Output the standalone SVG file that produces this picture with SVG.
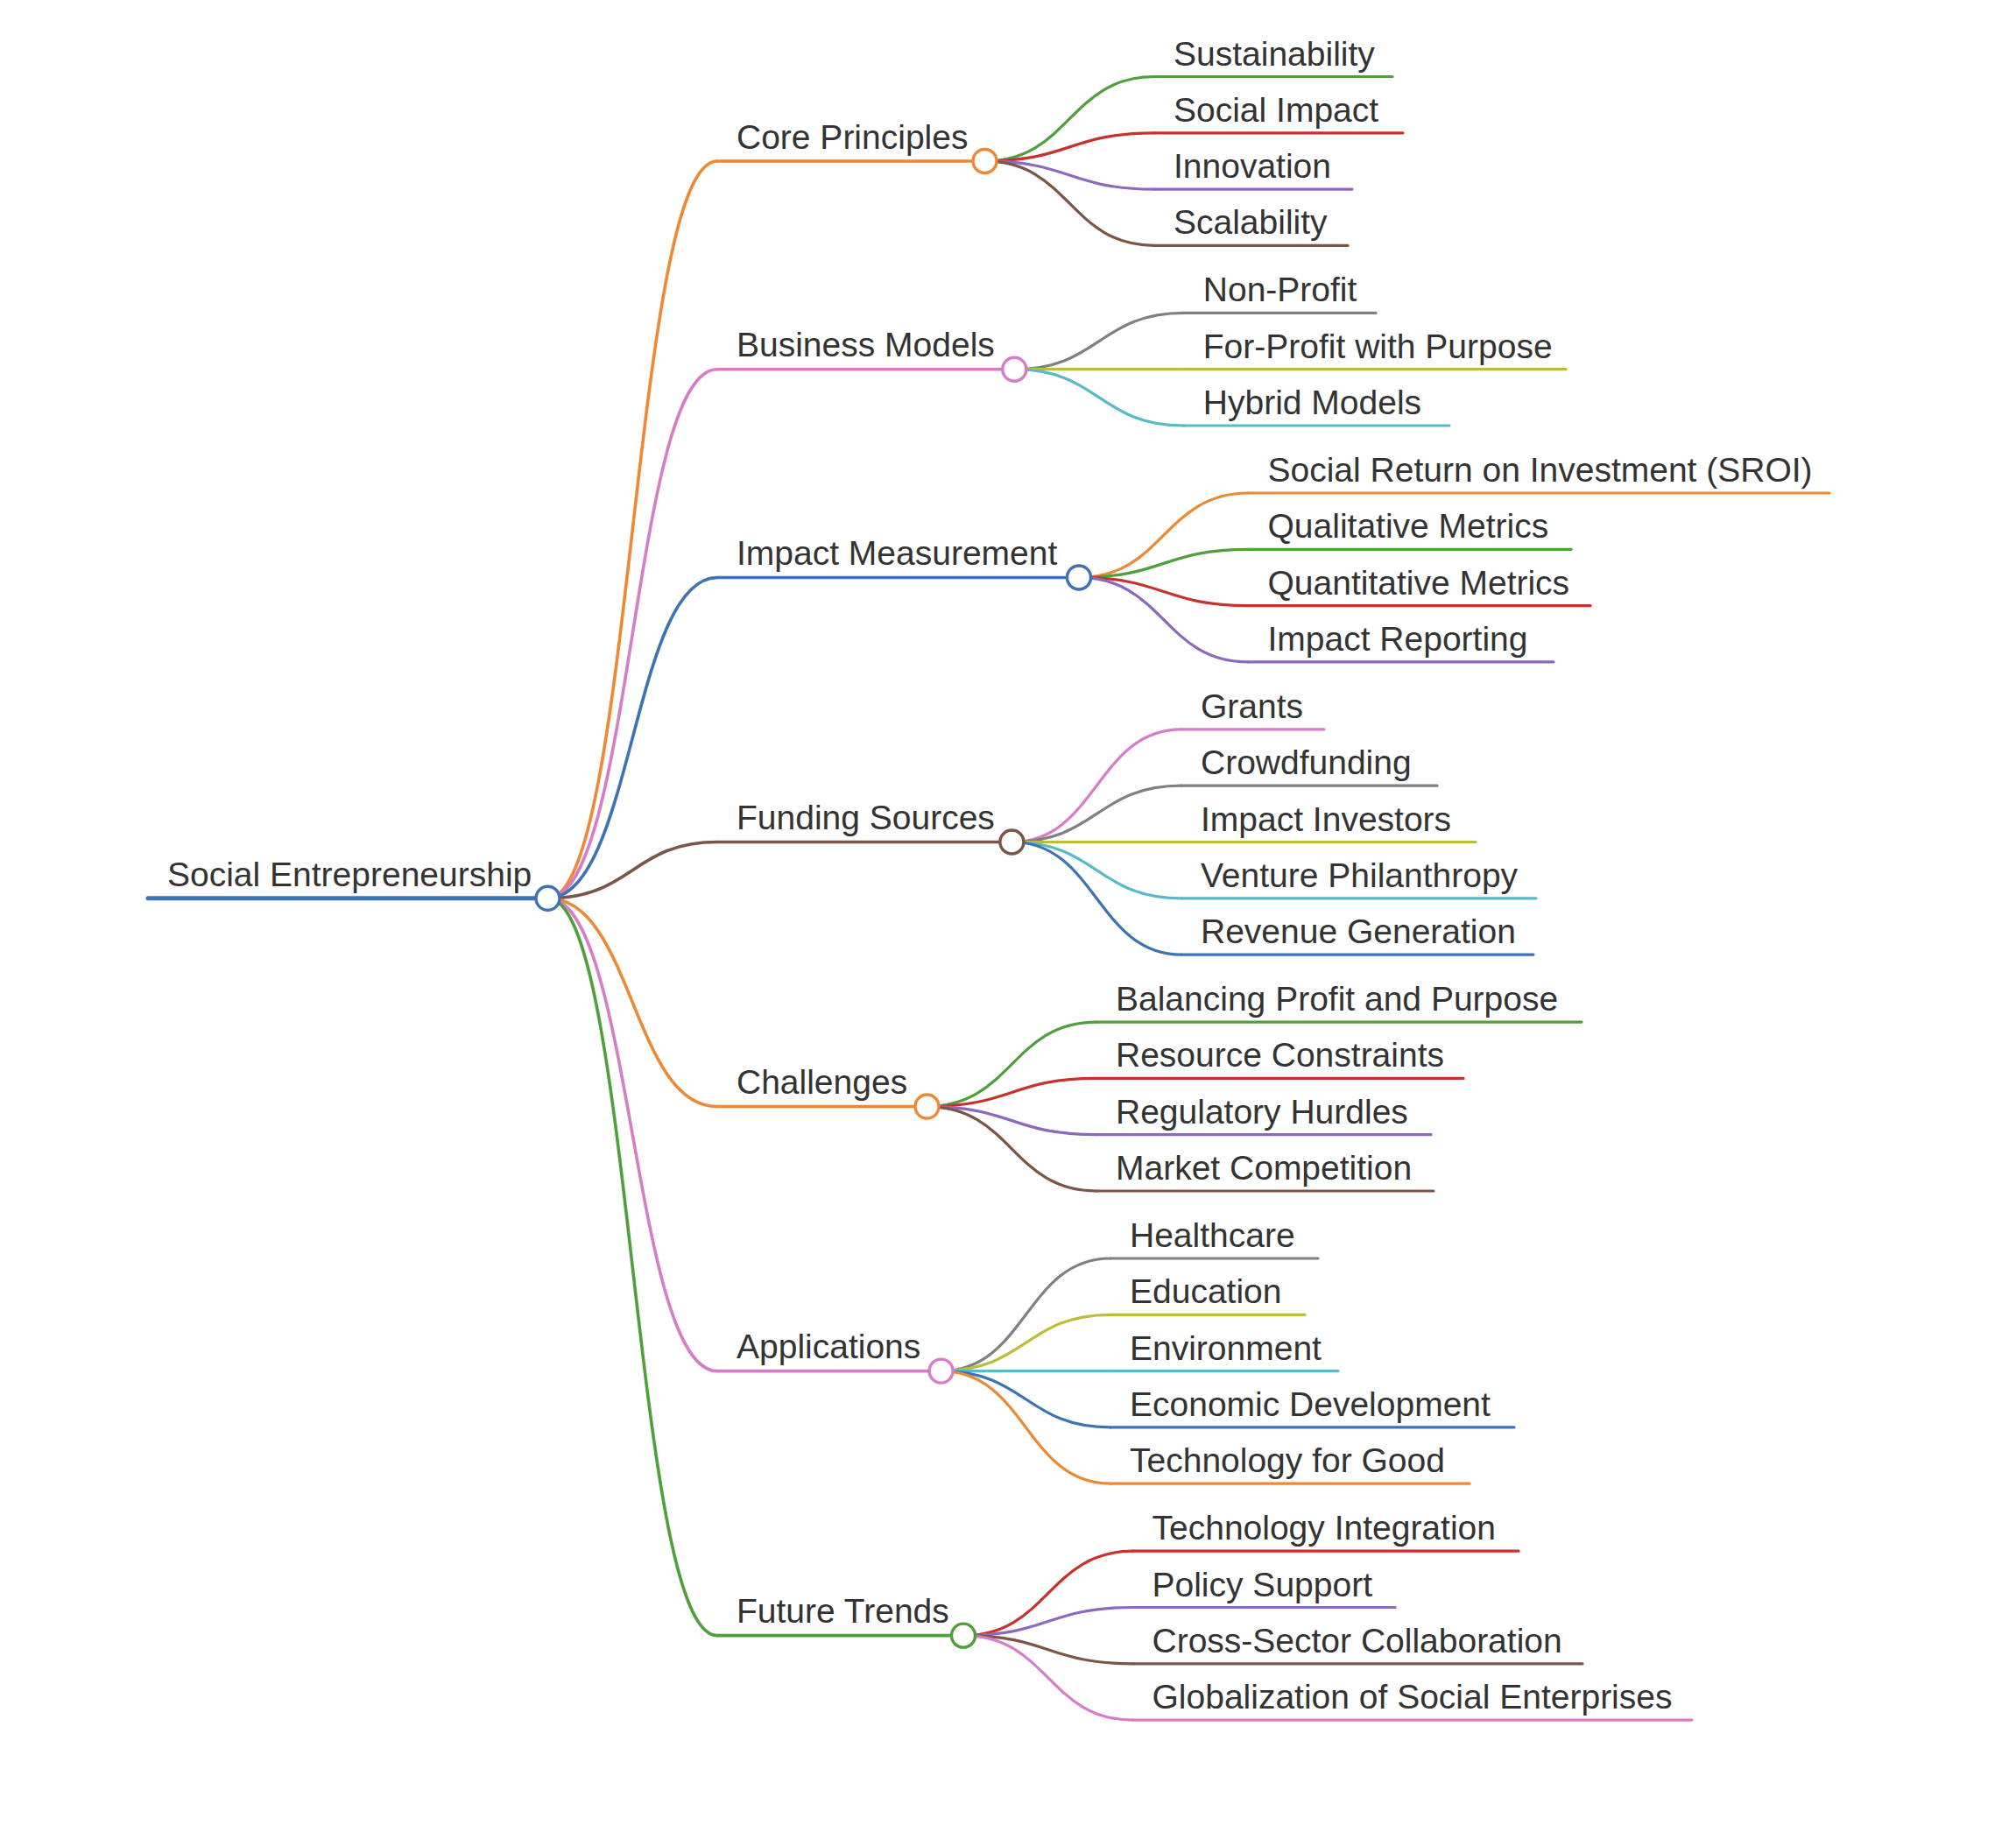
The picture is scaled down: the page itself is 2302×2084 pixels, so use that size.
<svg xmlns="http://www.w3.org/2000/svg" width="2302" height="2084" viewBox="0 0 2302 2084">
<style>
text{font-family:"Liberation Sans",Arial,Helvetica,sans-serif;font-size:39px;fill:#333333}
path,line{fill:none;stroke-linecap:round}
.l0{stroke-width:5}
.l1{stroke-width:3.6}
.l2{stroke-width:3.2}
circle{fill:#ffffff;stroke-width:3.4}
.blue{stroke:#3c73b4}.orange{stroke:#ee8834}.green{stroke:#4f9f3c}.red{stroke:#c8322d}.purple{stroke:#8c69be}
.brown{stroke:#7d5546}.pink{stroke:#d77dc8}.gray{stroke:#808080}.olive{stroke:#bdbd3c}.cyan{stroke:#58b9c9}
</style>
<rect width="2302" height="2084" fill="#ffffff"/>
<g id="connectors">
<path class="l1 orange" d="M625.5,1025.8 C722.25,1025.8 722.25,183.95 819,183.95"/>
<path class="l1 pink" d="M625.5,1025.8 C722.25,1025.8 722.25,421.7 819,421.7"/>
<path class="l1 blue" d="M625.5,1025.8 C722.25,1025.8 722.25,659.45 819,659.45"/>
<path class="l1 brown" d="M625.5,1025.8 C722.25,1025.8 722.25,961.5 819,961.5"/>
<path class="l1 orange" d="M625.5,1025.8 C722.25,1025.8 722.25,1263.55 819,1263.55"/>
<path class="l1 pink" d="M625.5,1025.8 C722.25,1025.8 722.25,1565.6 819,1565.6"/>
<path class="l1 green" d="M625.5,1025.8 C722.25,1025.8 722.25,1867.65 819,1867.65"/>

<path class="l2 green" d="M1124.5,183.95 C1221.25,183.95 1221.25,87.5 1318,87.5"/>
<path class="l2 red" d="M1124.5,183.95 C1221.25,183.95 1221.25,151.8 1318,151.8"/>
<path class="l2 purple" d="M1124.5,183.95 C1221.25,183.95 1221.25,216.1 1318,216.1"/>
<path class="l2 brown" d="M1124.5,183.95 C1221.25,183.95 1221.25,280.4 1318,280.4"/>

<path class="l2 gray" d="M1158.3,421.7 C1255.05,421.7 1255.05,357.4 1351.8,357.4"/>
<path class="l2 olive" d="M1158.3,421.7 C1255.05,421.7 1255.05,421.7 1351.8,421.7"/>
<path class="l2 cyan" d="M1158.3,421.7 C1255.05,421.7 1255.05,486 1351.8,486"/>

<path class="l2 orange" d="M1232,659.45 C1328.75,659.45 1328.75,563 1425.5,563"/>
<path class="l2 green" d="M1232,659.45 C1328.75,659.45 1328.75,627.3 1425.5,627.3"/>
<path class="l2 red" d="M1232,659.45 C1328.75,659.45 1328.75,691.6 1425.5,691.6"/>
<path class="l2 purple" d="M1232,659.45 C1328.75,659.45 1328.75,755.9 1425.5,755.9"/>

<path class="l2 pink" d="M1155.4,961.5 C1252.15,961.5 1252.15,832.9 1349,832.9"/>
<path class="l2 gray" d="M1155.4,961.5 C1252.15,961.5 1252.15,897.2 1349,897.2"/>
<path class="l2 olive" d="M1155.4,961.5 C1252.15,961.5 1252.15,961.5 1349,961.5"/>
<path class="l2 cyan" d="M1155.4,961.5 C1252.15,961.5 1252.15,1025.8 1349,1025.8"/>
<path class="l2 blue" d="M1155.4,961.5 C1252.15,961.5 1252.15,1090.1 1349,1090.1"/>

<path class="l2 green" d="M1058.5,1263.55 C1155.25,1263.55 1155.25,1167.1 1252,1167.1"/>
<path class="l2 red" d="M1058.5,1263.55 C1155.25,1263.55 1155.25,1231.4 1252,1231.4"/>
<path class="l2 purple" d="M1058.5,1263.55 C1155.25,1263.55 1155.25,1295.7 1252,1295.7"/>
<path class="l2 brown" d="M1058.5,1263.55 C1155.25,1263.55 1155.25,1360 1252,1360"/>

<path class="l2 gray" d="M1074.6,1565.6 C1171.35,1565.6 1171.35,1437 1268,1437"/>
<path class="l2 olive" d="M1074.6,1565.6 C1171.35,1565.6 1171.35,1501.3 1268,1501.3"/>
<path class="l2 cyan" d="M1074.6,1565.6 C1171.35,1565.6 1171.35,1565.6 1268,1565.6"/>
<path class="l2 blue" d="M1074.6,1565.6 C1171.35,1565.6 1171.35,1629.9 1268,1629.9"/>
<path class="l2 orange" d="M1074.6,1565.6 C1171.35,1565.6 1171.35,1694.2 1268,1694.2"/>

<path class="l2 red" d="M1100,1867.65 C1196.75,1867.65 1196.75,1771.2 1293.5,1771.2"/>
<path class="l2 purple" d="M1100,1867.65 C1196.75,1867.65 1196.75,1835.5 1293.5,1835.5"/>
<path class="l2 brown" d="M1100,1867.65 C1196.75,1867.65 1196.75,1899.8 1293.5,1899.8"/>
<path class="l2 pink" d="M1100,1867.65 C1196.75,1867.65 1196.75,1964.1 1293.5,1964.1"/>
</g>

<g id="n-root"><line class="l0 blue" x1="169" y1="1025.8" x2="625.5" y2="1025.8"/><circle class="blue" cx="625.5" cy="1025.8" r="13.5"/><text x="191" y="1011.8">Social Entrepreneurship</text></g>

<g id="n-core"><line class="l1 orange" x1="819" y1="183.95" x2="1124.5" y2="183.95"/><circle class="orange" cx="1124.5" cy="183.95" r="13.5"/><text x="841" y="169.5">Core Principles</text></g>
<g id="n-sustainability"><line class="l2 green" x1="1318" y1="87.5" x2="1590" y2="87.5"/><text x="1340" y="74.5">Sustainability</text></g>
<g id="n-socialimpact"><line class="l2 red" x1="1318" y1="151.8" x2="1602" y2="151.8"/><text x="1340" y="138.8">Social Impact</text></g>
<g id="n-innovation"><line class="l2 purple" x1="1318" y1="216.1" x2="1544" y2="216.1"/><text x="1340" y="203.1">Innovation</text></g>
<g id="n-scalability"><line class="l2 brown" x1="1318" y1="280.4" x2="1539" y2="280.4"/><text x="1340" y="267.4">Scalability</text></g>

<g id="n-business"><line class="l1 pink" x1="819" y1="421.7" x2="1158.3" y2="421.7"/><circle class="pink" cx="1158.3" cy="421.7" r="13.5"/><text x="841" y="407.2">Business Models</text></g>
<g id="n-nonprofit"><line class="l2 gray" x1="1351.8" y1="357.4" x2="1571" y2="357.4"/><text x="1373.8" y="344.4">Non-Profit</text></g>
<g id="n-forprofit"><line class="l2 olive" x1="1351.8" y1="421.7" x2="1788" y2="421.7"/><text x="1373.8" y="408.7">For-Profit with Purpose</text></g>
<g id="n-hybrid"><line class="l2 cyan" x1="1351.8" y1="486" x2="1655" y2="486"/><text x="1373.8" y="473">Hybrid Models</text></g>

<g id="n-impact"><line class="l1 blue" x1="819" y1="659.45" x2="1232" y2="659.45"/><circle class="blue" cx="1232" cy="659.45" r="13.5"/><text x="841" y="645">Impact Measurement</text></g>
<g id="n-sroi"><line class="l2 orange" x1="1425.5" y1="563" x2="2089" y2="563"/><text x="1447.5" y="550">Social Return on Investment (SROI)</text></g>
<g id="n-qualitative"><line class="l2 green" x1="1425.5" y1="627.3" x2="1794" y2="627.3"/><text x="1447.5" y="614.3">Qualitative Metrics</text></g>
<g id="n-quantitative"><line class="l2 red" x1="1425.5" y1="691.6" x2="1816" y2="691.6"/><text x="1447.5" y="678.6">Quantitative Metrics</text></g>
<g id="n-reporting"><line class="l2 purple" x1="1425.5" y1="755.9" x2="1774" y2="755.9"/><text x="1447.5" y="742.9">Impact Reporting</text></g>

<g id="n-funding"><line class="l1 brown" x1="819" y1="961.5" x2="1155.4" y2="961.5"/><circle class="brown" cx="1155.4" cy="961.5" r="13.5"/><text x="841" y="947">Funding Sources</text></g>
<g id="n-grants"><line class="l2 pink" x1="1349" y1="832.9" x2="1512" y2="832.9"/><text x="1371" y="819.9">Grants</text></g>
<g id="n-crowdfunding"><line class="l2 gray" x1="1349" y1="897.2" x2="1641" y2="897.2"/><text x="1371" y="884.2">Crowdfunding</text></g>
<g id="n-investors"><line class="l2 olive" x1="1349" y1="961.5" x2="1685" y2="961.5"/><text x="1371" y="948.5">Impact Investors</text></g>
<g id="n-venture"><line class="l2 cyan" x1="1349" y1="1025.8" x2="1754" y2="1025.8"/><text x="1371" y="1012.8">Venture Philanthropy</text></g>
<g id="n-revenue"><line class="l2 blue" x1="1349" y1="1090.1" x2="1751" y2="1090.1"/><text x="1371" y="1077.1">Revenue Generation</text></g>

<g id="n-challenges"><line class="l1 orange" x1="819" y1="1263.55" x2="1058.5" y2="1263.55"/><circle class="orange" cx="1058.5" cy="1263.55" r="13.5"/><text x="841" y="1249">Challenges</text></g>
<g id="n-balancing"><line class="l2 green" x1="1252" y1="1167.1" x2="1806" y2="1167.1"/><text x="1274" y="1154.1">Balancing Profit and Purpose</text></g>
<g id="n-resource"><line class="l2 red" x1="1252" y1="1231.4" x2="1671" y2="1231.4"/><text x="1274" y="1218.4">Resource Constraints</text></g>
<g id="n-regulatory"><line class="l2 purple" x1="1252" y1="1295.7" x2="1634" y2="1295.7"/><text x="1274" y="1282.7">Regulatory Hurdles</text></g>
<g id="n-market"><line class="l2 brown" x1="1252" y1="1360" x2="1637" y2="1360"/><text x="1274" y="1347">Market Competition</text></g>

<g id="n-applications"><line class="l1 pink" x1="819" y1="1565.6" x2="1074.6" y2="1565.6"/><circle class="pink" cx="1074.6" cy="1565.6" r="13.5"/><text x="841" y="1551">Applications</text></g>
<g id="n-healthcare"><line class="l2 gray" x1="1268" y1="1437" x2="1505" y2="1437"/><text x="1290" y="1424">Healthcare</text></g>
<g id="n-education"><line class="l2 olive" x1="1268" y1="1501.3" x2="1490" y2="1501.3"/><text x="1290" y="1488.3">Education</text></g>
<g id="n-environment"><line class="l2 cyan" x1="1268" y1="1565.6" x2="1528" y2="1565.6"/><text x="1290" y="1552.6">Environment</text></g>
<g id="n-economic"><line class="l2 blue" x1="1268" y1="1629.9" x2="1729" y2="1629.9"/><text x="1290" y="1616.9">Economic Development</text></g>
<g id="n-techgood"><line class="l2 orange" x1="1268" y1="1694.2" x2="1678" y2="1694.2"/><text x="1290" y="1681.2">Technology for Good</text></g>

<g id="n-future"><line class="l1 green" x1="819" y1="1867.65" x2="1100" y2="1867.65"/><circle class="green" cx="1100" cy="1867.65" r="13.5"/><text x="841" y="1853">Future Trends</text></g>
<g id="n-techint"><line class="l2 red" x1="1293.5" y1="1771.2" x2="1734" y2="1771.2"/><text x="1315.5" y="1758.2">Technology Integration</text></g>
<g id="n-policy"><line class="l2 purple" x1="1293.5" y1="1835.5" x2="1593" y2="1835.5"/><text x="1315.5" y="1822.5">Policy Support</text></g>
<g id="n-crosssector"><line class="l2 brown" x1="1293.5" y1="1899.8" x2="1807" y2="1899.8"/><text x="1315.5" y="1886.8">Cross-Sector Collaboration</text></g>
<g id="n-global"><line class="l2 pink" x1="1293.5" y1="1964.1" x2="1932" y2="1964.1"/><text x="1315.5" y="1951.1">Globalization of Social Enterprises</text></g>
</svg>
